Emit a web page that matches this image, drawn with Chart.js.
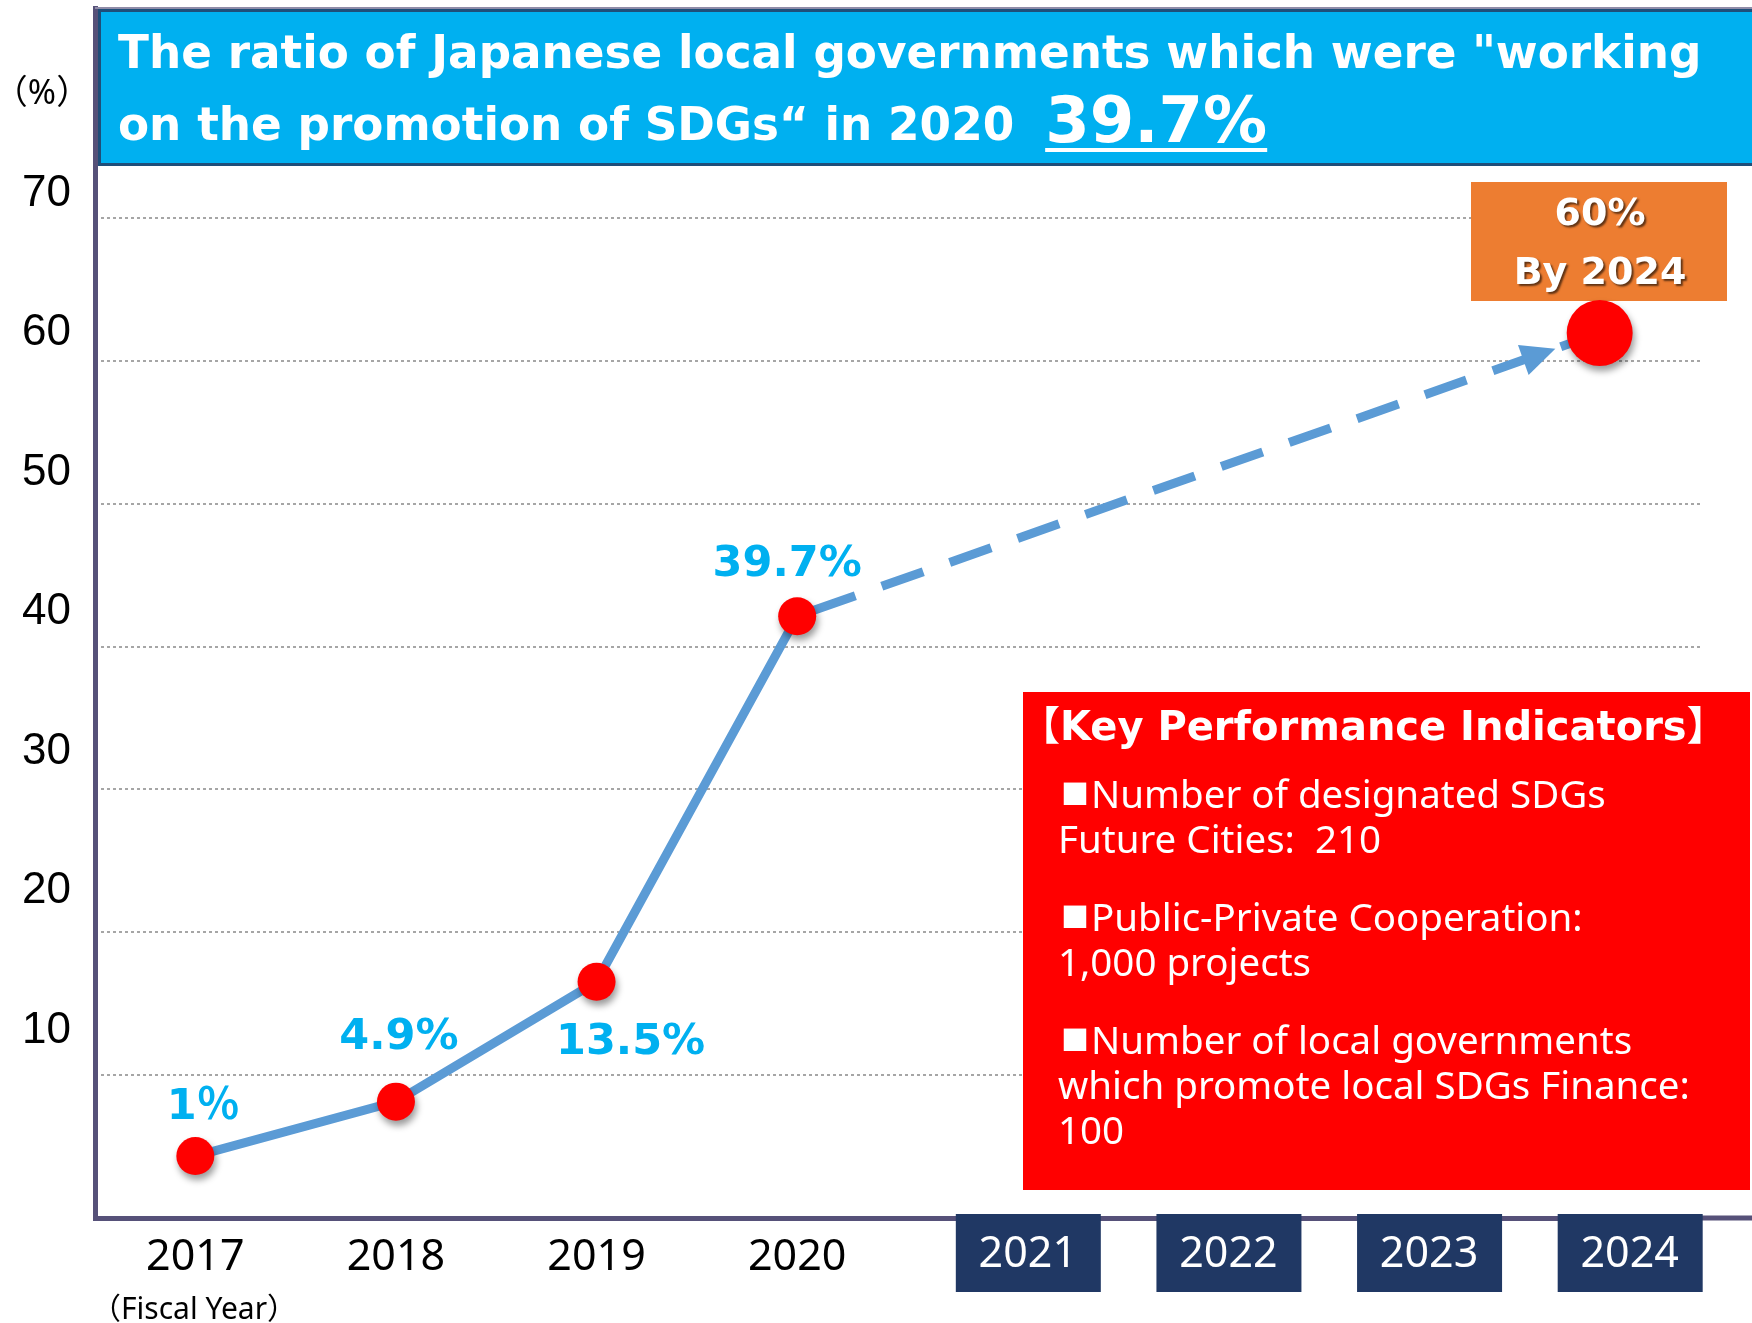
<!DOCTYPE html>
<html>
<head>
<meta charset="utf-8">
<script src="https://cdn.jsdelivr.net/npm/chart.js@4.4.1/dist/chart.umd.min.js"></script>
<style>
  html, body { margin: 0; padding: 0; background: #fff; }
  #wrap { width: 1752px; height: 1323px; }
</style>
</head>
<body>
<div id="wrap"><canvas id="chart"></canvas></div>
<script>
const years = ['2017', '2018', '2019', '2020', '2021', '2022', '2023', '2024'];
const ratio = [1, 4.9, 13.5, 39.7, null, null, null, 60];
const ratioLabels = ['1％', '4.9%', '13.5%', '39.7%', null, null, null, null];
const targetYears = ['2021', '2022', '2023', '2024'];
const yTicks = [10, 20, 30, 40, 50, 60, 70];
const gridTicks = [10, 20, 30, 40, 50, 60, 70];
const titleLines = ['The ratio of Japanese local governments which were "working', 'on the promotion of SDGs\u201C in 2020'];
const titleValue = '39.7%';
const targetLines = ['60%', 'By 2024'];
const kpiTitle = '【Key Performance Indicators】';
const kpiItems = [
  ['■Number of designated SDGs', 'Future Cities:  210'],
  ['■Public-Private Cooperation:', '1,000 projects'],
  ['■Number of local governments', 'which promote local SDGs Finance:', '100'],
];

const FONT = '"Noto Sans", "Noto Sans CJK JP", sans-serif';
const WIDE = '"DejaVu Sans", "Noto Sans CJK JP", sans-serif';
const LINE_BLUE = '#5B9BD5';
const LABEL_BLUE = '#00B0F0';
const FRAME = '#565179';

// projection segment: dash pattern and gap before the target point
const DASH = [44, 28];
const ARROW_GAP = 47;
const ARROW_LEN = 34;
const projStart = ratio.findIndex((v, i) => i > 0 && ratio[i + 1] === null);

// where each value label sits relative to its point
const labelOffsets = [[8, -48], [3, -64], [34, 61], [-10, -51]];

function projDashOffset(c) {
  if (c.p0DataIndex < projStart) return 0;
  const L = Math.hypot(c.p1.x - c.p0.x, c.p1.y - c.p0.y);
  const end = L - ARROW_GAP - ARROW_LEN + 2;
  const P = DASH[0] + DASH[1];
  return (((DASH[0] - end) % P) + P) % P;
}

const decor = {
  id: 'decor',
  beforeDatasetsDraw(chart) {
    const { ctx, chartArea: a } = chart;
    ctx.save();
    // frame: top line and bottom extension
    ctx.strokeStyle = '#8F8CA8';
    ctx.lineWidth = 2;
    ctx.beginPath();
    ctx.moveTo(a.left, a.top);
    ctx.lineTo(chart.width, a.top);
    ctx.stroke();
    ctx.strokeStyle = FRAME;
    ctx.lineWidth = 5;
    ctx.beginPath();
    ctx.moveTo(a.right, a.bottom);
    ctx.lineTo(chart.width, a.bottom);
    ctx.stroke();

    // title banner
    ctx.fillStyle = '#00B0F0';
    ctx.fillRect(99, 10, chart.width - 99, 155);
    ctx.strokeStyle = '#1F4E79';
    ctx.lineWidth = 3;
    ctx.strokeRect(99.5, 10.5, chart.width, 154);
    ctx.fillStyle = '#fff';
    ctx.textAlign = 'left';
    ctx.textBaseline = 'alphabetic';
    ctx.font = 'bold 45.3px ' + WIDE;
    ctx.fillText(titleLines[0], 118, 68);
    ctx.fillText(titleLines[1], 118, 140);
    const vx = 118 + ctx.measureText(titleLines[1]).width + 31;
    ctx.font = 'bold 64px ' + WIDE;
    ctx.fillText(titleValue, vx, 142);
    ctx.fillRect(vx, 148, ctx.measureText(titleValue).width, 4);

    // target box
    ctx.fillStyle = '#ED7D31';
    ctx.fillRect(1471, 182, 256, 119);
    ctx.save();
    ctx.shadowColor = 'rgba(0,0,0,0.6)';
    ctx.shadowOffsetX = 2;
    ctx.shadowOffsetY = 2;
    ctx.shadowBlur = 2;
    ctx.fillStyle = '#fff';
    ctx.textAlign = 'center';
    ctx.textBaseline = 'middle';
    ctx.font = 'bold 38px ' + WIDE;
    ctx.fillText(targetLines[0], 1600, 215);
    ctx.fillText(targetLines[1], 1600, 274);
    ctx.restore();

    // KPI box
    ctx.fillStyle = '#FF0000';
    ctx.fillRect(1023, 692, 727, 498);
    ctx.fillStyle = '#fff';
    ctx.textAlign = 'left';
    ctx.textBaseline = 'middle';
    ctx.font = 'bold 40px ' + WIDE;
    ctx.fillText(kpiTitle, 1020, 730);
    let y = 797;
    kpiItems.forEach(item => {
      item.forEach(line => {
        let x = 1058;
        if (line.startsWith('■')) {
          ctx.font = '28px ' + FONT;
          ctx.fillText('■', 1061, y);
          x = 1061 + ctx.measureText('■').width + 2;
          line = line.slice(1);
        }
        ctx.font = '38.5px ' + FONT;
        ctx.fillText(line, x, y);
        y += 45;
      });
      y += 33;
    });
    ctx.restore();
  },
  beforeDatasetDraw(chart, args) {
    if (args.index !== 0) return;
    const ctx = chart.ctx;
    ctx.save();
    ctx.shadowColor = 'rgba(0,0,0,0.4)';
    ctx.shadowBlur = 7;
    ctx.shadowOffsetX = 2;
    ctx.shadowOffsetY = 5;
  },
  afterDatasetDraw(chart, args) {
    if (args.index === 0) chart.ctx.restore();
  },
  afterDatasetsDraw(chart) {
    const { ctx, chartArea: a, scales } = chart;
    const pts = chart.getDatasetMeta(1).data;
    ctx.save();

    // arrow head on the projection
    const last = ratio.length - 1;
    const p0 = pts[projStart], p1 = pts[last];
    const L = Math.hypot(p1.x - p0.x, p1.y - p0.y);
    const ux = (p1.x - p0.x) / L, uy = (p1.y - p0.y) / L;
    const tx = p1.x - ux * ARROW_GAP, ty = p1.y - uy * ARROW_GAP;
    const bx = tx - ux * ARROW_LEN, by = ty - uy * ARROW_LEN;
    ctx.fillStyle = LINE_BLUE;
    ctx.beginPath();
    ctx.moveTo(tx, ty);
    ctx.lineTo(bx - uy * 16, by + ux * 16);
    ctx.lineTo(bx + uy * 16, by - ux * 16);
    ctx.closePath();
    ctx.fill();

    // value labels
    ctx.fillStyle = LABEL_BLUE;
    ctx.font = 'bold 43px ' + WIDE;
    ctx.textAlign = 'center';
    ctx.textBaseline = 'middle';
    ratioLabels.forEach((t, i) => {
      if (!t) return;
      const [dx, dy] = labelOffsets[i];
      ctx.fillText(t, pts[i].x + dx, pts[i].y + dy);
    });

    // boxed target years, set a little right of their category
    targetYears.forEach(yr => {
      const x = scales.x.getPixelForValue(years.indexOf(yr)) + 30;
      ctx.fillStyle = '#203864';
      ctx.fillRect(x - 72, a.bottom - 4, 145, 78);
      ctx.fillStyle = '#fff';
      ctx.font = '43px ' + FONT;
      ctx.fillText(yr, x, a.bottom + 37);
    });
    ctx.restore();
  },
  afterDraw(chart) {
    const { ctx } = chart;
    ctx.save();
    ctx.fillStyle = '#000';
    ctx.textAlign = 'center';
    ctx.textBaseline = 'middle';
    ctx.font = '34px ' + FONT;
    ctx.fillText('（%）', 42, 94);
    ctx.font = '30px ' + FONT;
    ctx.fillText('（Fiscal Year）', 194, 1310);
    ctx.restore();
  }
};

new Chart(document.getElementById('chart'), {
  type: 'line',
  data: {
    labels: years,
    datasets: [
      {
        label: 'points',
        data: ratio,
        showLine: false,
        backgroundColor: '#FF0000',
        borderWidth: 0,
        pointRadius: ctx => (ctx.dataIndex === ratio.length - 1 ? 33 : 19),
        pointBorderWidth: 0,
      },
      {
        label: 'ratio',
        data: ratio,
        spanGaps: true,
        borderColor: LINE_BLUE,
        borderWidth: 9,
        pointRadius: 0,
        segment: {
          borderDash: c => (c.p0DataIndex >= projStart ? DASH : []),
          borderDashOffset: projDashOffset,
        },
      },
    ],
  },
  options: {
    responsive: true,
    maintainAspectRatio: false,
    animation: false,
    layout: { autoPadding: false, padding: { left: 0, top: 8, right: 52, bottom: 0 } },
    plugins: { legend: { display: false }, tooltip: { enabled: false } },
    scales: {
      x: {
        offset: true,
        grid: { display: false },
        border: { color: FRAME, width: 5 },
        ticks: {
          padding: 6,
          font: { family: FONT, size: 43 },
          color: c => (targetYears.includes(years[c.index]) ? 'rgba(0,0,0,0)' : '#000'),
        },
        afterFit: s => { s.height = 105; s.paddingLeft = 0; s.paddingRight = 0; },
      },
      y: {
        position: 'left',
        min: -3.44,
        max: 83.3,
        grid: { display: false },
        border: { color: FRAME, width: 5 },
        ticks: {
          padding: 16,
          color: '#000',
          font: { family: '"Liberation Sans", sans-serif', size: 44 },
        },
        afterBuildTicks: s => { s.ticks = yTicks.map(value => ({ value })); },
        afterFit: s => { s.width = 95; s.paddingTop = 0; s.paddingBottom = 0; },
      },
      yGrid: {
        position: 'left',
        min: 0,
        max: 84.7,
        grid: { color: '#A6A6A6', lineWidth: 2, drawTicks: false },
        border: { display: false, dash: [3, 3] },
        ticks: { display: false },
        afterBuildTicks: s => { s.ticks = gridTicks.map(value => ({ value })); },
        afterFit: s => { s.width = 0; s.paddingTop = 0; s.paddingBottom = 0; },
      },
    },
  },
  plugins: [decor],
});
</script>
</body>
</html>
